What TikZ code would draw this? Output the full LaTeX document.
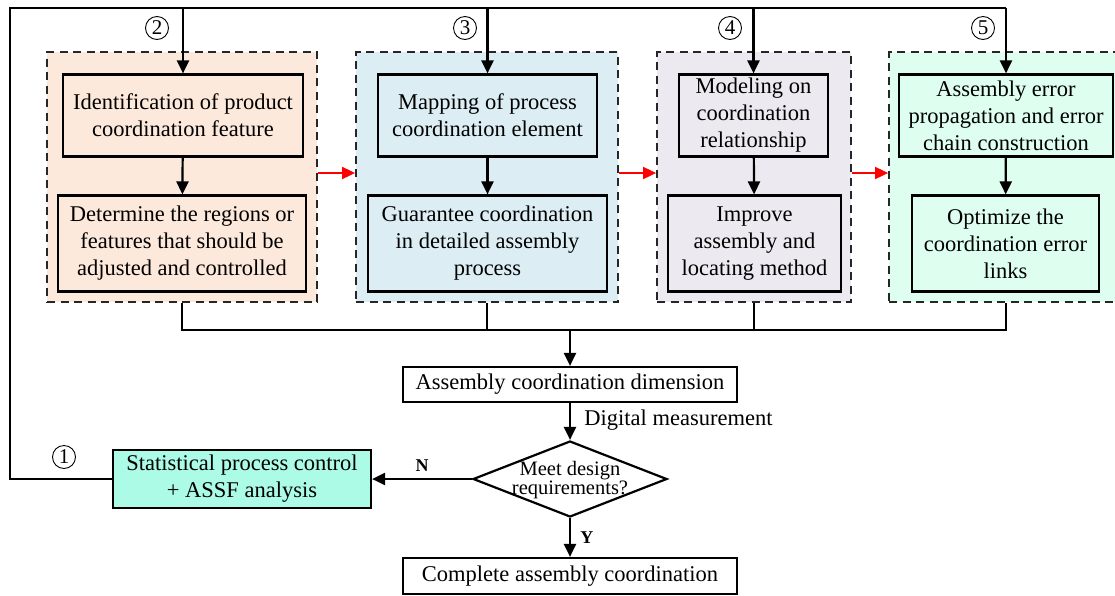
\documentclass[tikz,border=0pt]{standalone}
\usepackage{fontspec}
\setmainfont{Liberation Serif}
\usetikzlibrary{arrows.meta,shapes.geometric,calc}

\definecolor{peach}{HTML}{FCE9DC}
\definecolor{paleblue}{HTML}{DCEEF4}
\definecolor{lavender}{HTML}{ECE9F1}
\definecolor{mint}{HTML}{DEFEF0}
\definecolor{aqua}{HTML}{ACFBE6}

\tikzset{
  every node/.style={font=\fontsize{22.5}{27}\selectfont},
  group/.style={draw=black!85, dash pattern=on 8pt off 5.5pt, line width=1.8pt,
    minimum height=250pt, inner sep=0pt},
  stepbox/.style={draw, line width=2.2pt, align=center, inner sep=0pt},
  flow/.style={line width=2.2pt, -{Triangle[length=13pt,width=12pt]}},
  redflow/.style={red, line width=1.8pt, -{Triangle[length=13pt,width=12pt]}},
  wire/.style={line width=2.2pt},
  num/.style={circle, draw, line width=0.9pt, minimum size=23pt, inner sep=0pt,
    font=\fontsize{21}{21}\selectfont},
  lbl/.style={font=\fontsize{18}{18}\selectfont\bfseries},
}

\begin{document}
\begin{tikzpicture}[x=1pt,y=-1pt]
\useasboundingbox (0,0) rectangle (1115,595);
\clip (0,0) rectangle (1115,595);

% dashed stage groups
\node[group, fill=peach,    minimum width=270pt] (g1) at (182,177) {};
\node[group, fill=paleblue, minimum width=262pt] (g2) at (487,177) {};
\node[group, fill=lavender, minimum width=194pt] (g3) at (754,177) {};
\node[group, fill=mint,     minimum width=234pt] (g4) at (1006,177) {};

% upper row of steps
\node[stepbox, fill=peach,    minimum width=240pt, minimum height=82pt] (a1) at (183,115.5)
  {Identification of product\\coordination feature};
\node[stepbox, fill=paleblue, minimum width=219pt, minimum height=82pt] (a2) at (487.5,115.5)
  {Mapping of process\\coordination element};
\node[stepbox, fill=lavender, minimum width=149pt, minimum height=82pt] (a3) at (753.5,115.5)
  {Modeling on\\coordination\\relationship};
\node[stepbox, fill=mint,     minimum width=214pt, minimum height=82pt] (a4) at (1006,115.5)
  {Assembly error\\propagation and error\\chain construction};

% lower row of steps
\node[stepbox, fill=peach,    minimum width=248pt, minimum height=96pt] (b1) at (182,243.5)
  {Determine the regions or\\features that should be\\adjusted and controlled};
\node[stepbox, fill=paleblue, minimum width=239pt, minimum height=96pt] (b2) at (487.5,243.5)
  {Guarantee coordination\\in detailed assembly\\process};
\node[stepbox, fill=lavender, minimum width=173pt, minimum height=96pt] (b3) at (754.5,243.5)
  {Improve\\assembly and\\locating method};
\node[stepbox, fill=mint,     minimum width=187pt, minimum height=96pt] (b4) at (1005.5,243.5)
  {Optimize the\\coordination error\\links};

% bottom part
\node[stepbox, fill=white, minimum width=334pt, minimum height=35pt] (dim) at (570,384.5)
  {Assembly coordination dimension};
\node[diamond, draw, line width=2.2pt, minimum width=194pt, minimum height=76pt,
  shape aspect=2.55, inner sep=0pt] (dia) at (570,479) {};
\node[align=center, font={\fontsize{20.5}{19}\selectfont\lineskiplimit=-30pt}] (diatext) at (570,480)
  {Meet design\\requirements?};
\node[stepbox, fill=aqua, minimum width=258pt, minimum height=58pt] (spc) at (242,479)
  {Statistical process control\\+ ASSF analysis};
\node[stepbox, fill=white, minimum width=334pt, minimum height=36pt] (done) at (570,576)
  {Complete assembly coordination};

% circled step numbers
\node[num] (n1) at (64,457) {1};
\node[num] (n2) at (157,28) {2};
\node[num] (n3) at (465,28) {3};
\node[num] (n4) at (730,28) {4};
\node[num] (n5) at (983,28) {5};

% feedback loop over the top
\coordinate (topl) at (10,8);
\coordinate (topr) at (1006,8);
\draw[wire] (spc.west) -| (topl) -- (topr);
\draw[flow] (a1.north |- topl) -- (a1.north);
\draw[flow] (a2.north |- topl) -- (a2.north);
\draw[flow] (a3.north |- topl) -- (a3.north);
\draw[flow] (topr) -- (a4.north);

% inside the groups
\draw[flow] (a1) -- (b1);
\draw[flow] (a2) -- (b2);
\draw[flow] (a3) -- (b3);
\draw[flow] (a4) -- (b4);

% red links between groups
\coordinate (ry) at (0,173);
\draw[redflow] (g1.east |- ry) -- (g2.west |- ry);
\draw[redflow] (g2.east |- ry) -- (g3.west |- ry);
\draw[redflow] (g3.east |- ry) -- (g4.west |- ry);

% collector bus
\coordinate (busy) at (0,330);
\coordinate (busl) at (g1.south |- busy);
\coordinate (busr) at (g4.south |- busy);
\draw[wire] (g1.south) -- (busl) -- (busr) -- (g4.south);
\draw[wire] (g2.south) -- (g2.south |- busy);
\draw[wire] (g3.south) -- (g3.south |- busy);
\draw[flow] (dim.north |- busy) -- (dim.north);

% decision
\draw[flow] (dim.south) -- node[right=10pt, pos=0.45] (dm) {Digital measurement} (dia.north);
\draw[flow] (dia.west) -- node[lbl, above=3pt, pos=0.5] (nn) {N} (spc.east);
\draw[flow] (dia.south) -- node[lbl, right=6pt, pos=0.5] (yy) {Y} (done.north);

\end{tikzpicture}
\end{document}
